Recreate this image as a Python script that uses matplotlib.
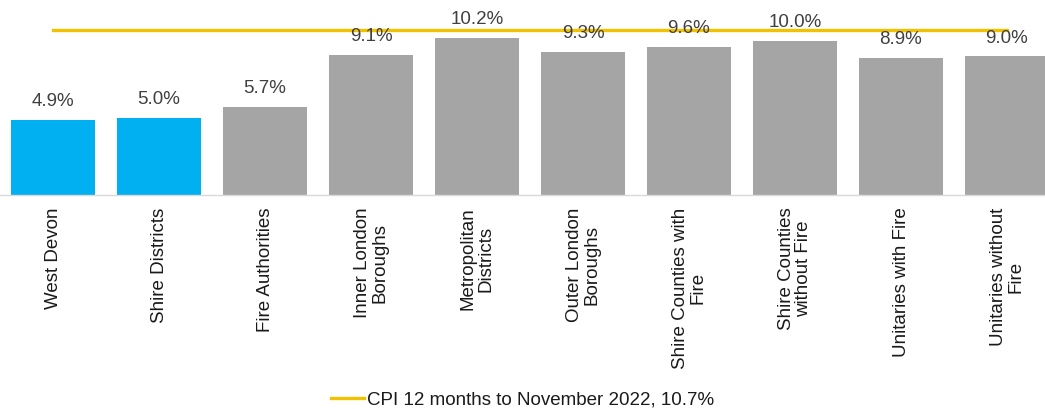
import matplotlib
matplotlib.use("Agg")
import matplotlib.pyplot as plt

categories = ["West Devon", "Shire Districts", "Fire Authorities", "Inner London\nBoroughs",
              "Metropolitan\nDistricts", "Outer London\nBoroughs", "Shire Counties with\nFire",
              "Shire Counties\nwithout Fire", "Unitaries with Fire", "Unitaries without\nFire"]
values = [4.9, 5.0, 5.7, 9.1, 10.2, 9.3, 9.6, 10.0, 8.9, 9.0]
highlight = [True, True, False, False, False, False, False, False, False, False]
cpi_value = 10.7
cpi_label = "CPI 12 months to November 2022, 10.7%"

plt.rcParams['font.family'] = ['Liberation Sans', 'DejaVu Sans']
FS = 13.5
TXT = '#404040'

fig = plt.figure(figsize=(10.45, 4.09), dpi=100)
W, H = 1045, 409
base_y = 195
px_per = 15.4
ymax = 12.5
ax = fig.add_axes([0 / W, 1 - base_y / H, 1060 / W, ymax * px_per / H])

x = list(range(len(categories)))
colors = ['#00B0F0' if h else '#A5A5A5' for h in highlight]
bars = ax.bar(x, values, width=0.8, color=colors, zorder=2)
ax.plot(x, [cpi_value] * len(x), color='#F2C100', lw=2.4, zorder=3, label=cpi_label)

for xi, v in zip(x, values):
    ax.annotate(f"{v:.1f}%", (xi, v), xytext=(0, 7), textcoords='offset points',
                ha='center', va='bottom', fontsize=FS, color=TXT, zorder=4)

ax.set_xlim(-0.5, len(x) - 0.5)
ax.set_ylim(0, ymax)
ax.set_yticks([])
ax.set_xticks(x)
ax.set_xticklabels(categories, rotation=90, fontsize=FS, color='#1a1a1a',
                   ha='center', va='top', multialignment='center', linespacing=1.0)
ax.tick_params(axis='x', length=0, pad=9)
for s in ['top', 'left', 'right']:
    ax.spines[s].set_visible(False)
ax.spines['bottom'].set_color('#D9D9D9')
ax.spines['bottom'].set_linewidth(1.0)

fig.legend(loc='center', bbox_to_anchor=(0.5, 1 - 400 / H), frameon=False, fontsize=FS,
           handlelength=1.8, handletextpad=0.15, labelcolor='#1a1a1a',
           borderpad=0, borderaxespad=0)

fig.savefig("out.png", dpi=100)
